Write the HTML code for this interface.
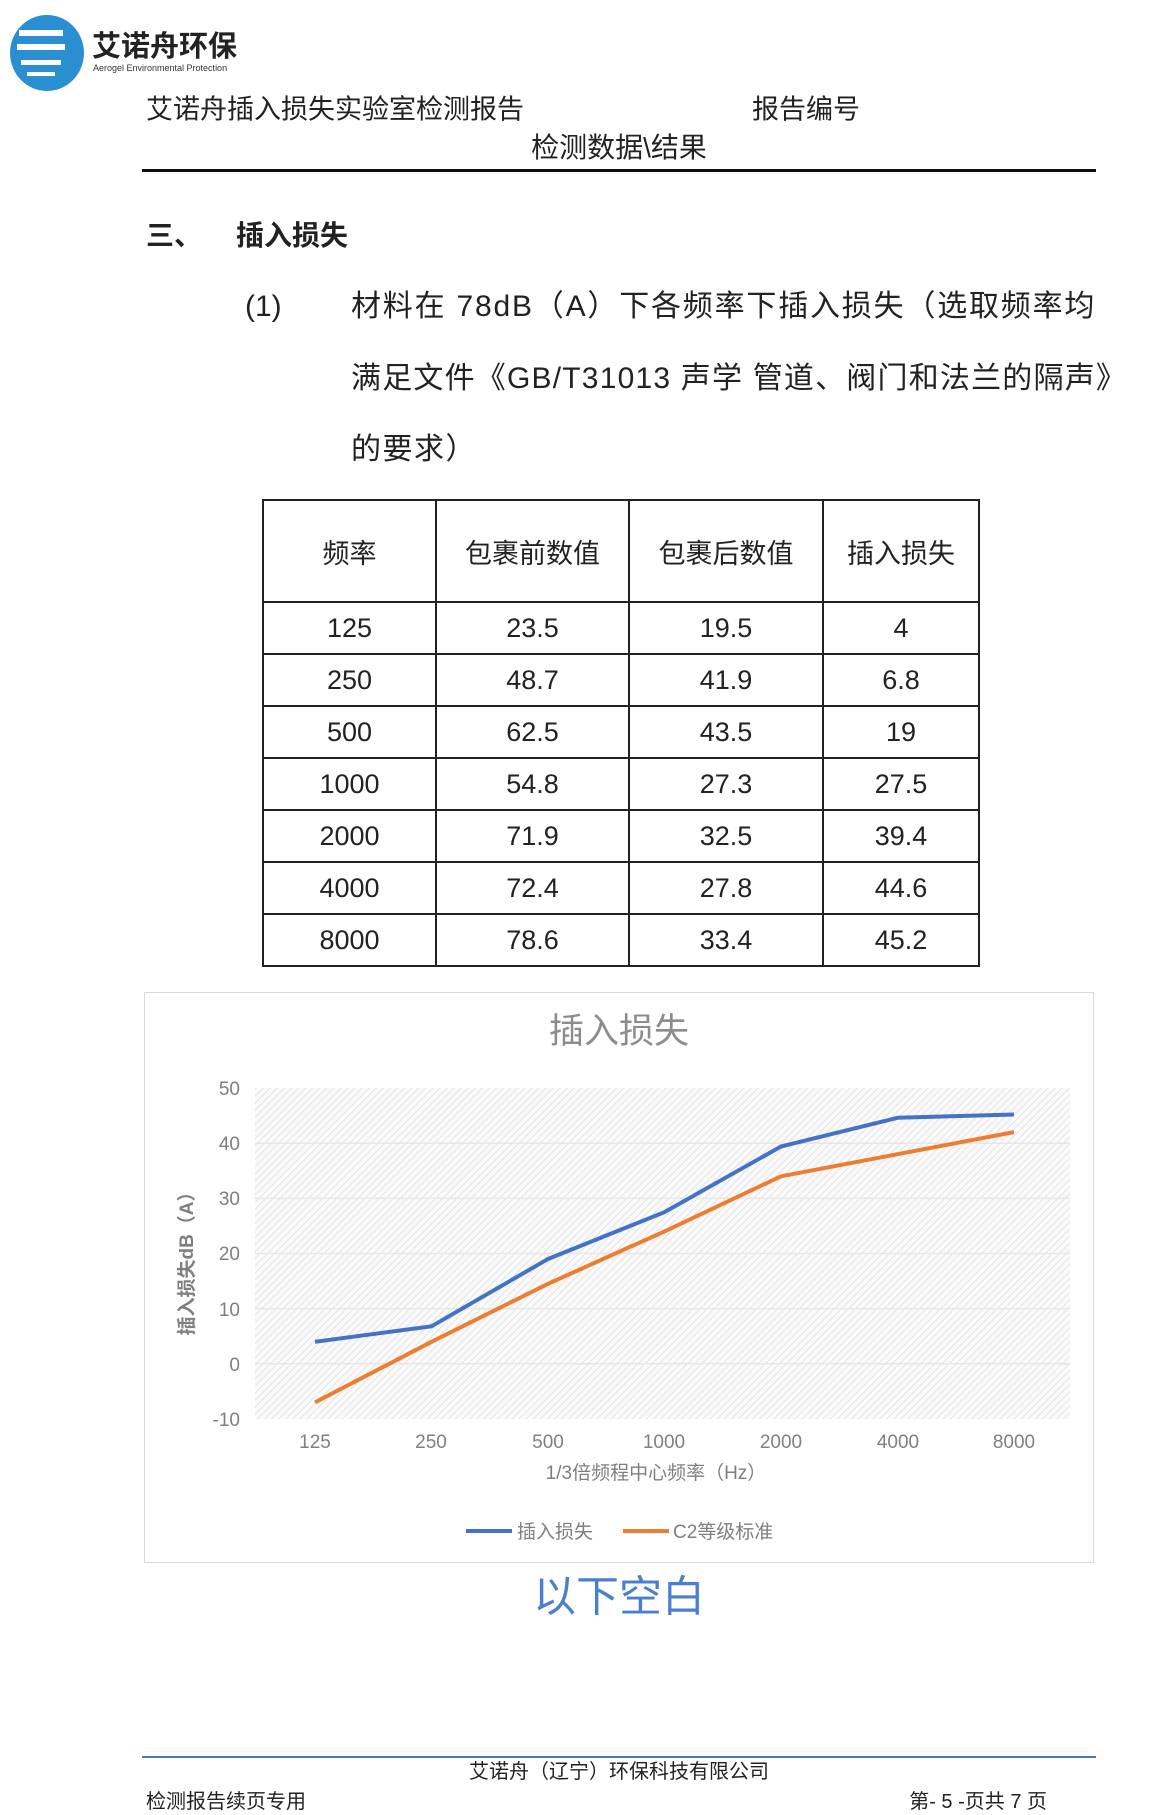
<!DOCTYPE html>
<html><head><meta charset="utf-8">
<style>
body{margin:0;width:1151px;height:1815px;background:#fff;position:relative;overflow:hidden;font-family:"Liberation Sans","Noto Sans CJK SC",sans-serif;color:#222}
.a{position:absolute;white-space:nowrap;line-height:1}
.c{transform:translate(-50%,-50%)}
.l{transform:translateY(-50%)}
table{position:absolute;left:262px;top:499px;border-collapse:collapse;font-size:27px}
td{border:2px solid #222;text-align:center;padding:0}
</style></head><body>
<!-- logo -->
<svg class="a" style="left:9px;top:14px" width="80" height="78" viewBox="0 0 80 78">
<ellipse cx="38" cy="39" rx="37" ry="38" fill="#2a8fd0"/>
<rect x="10" y="16" width="44" height="6" fill="#fff"/>
<rect x="8" y="30" width="48" height="6" fill="#fff"/>
<rect x="12" y="46" width="40" height="5" fill="#fff"/>
<rect x="18" y="58" width="28" height="4" fill="#fff"/>
<text x="62" y="58" font-size="12" fill="#2a8fd0">+</text>
</svg>
<div class="a" style="left:92px;top:33px;font-size:29px;font-weight:bold;color:#222">艾诺舟环保</div>
<div class="a" style="left:93px;top:64px;font-size:9px;color:#333">Aerogel Environmental Protection</div>

<div class="a l" style="left:146px;top:110px;font-size:27px">艾诺舟插入损失实验室检测报告</div>
<div class="a l" style="left:752px;top:110px;font-size:27px">报告编号</div>
<div class="a c" style="left:619px;top:148px;font-size:28px">检测数据\结果</div>
<div class="a" style="left:142px;top:169px;width:954px;height:3px;background:#111"></div>

<div class="a l" style="left:146px;top:236px;font-size:28px;font-weight:bold">三、<span style="display:inline-block;width:34px"></span>插入损失</div>
<div class="a l" style="left:245px;top:307px;font-size:30px">(1)</div>
<div class="a l" style="left:351px;top:307px;font-size:30px;letter-spacing:1.8px">材料在 78dB（A）下各频率下插入损失（选取频率均</div>
<div class="a l" style="left:351px;top:379px;font-size:30px;letter-spacing:1.2px">满足文件《GB/T31013 声学 管道、阀门和法兰的隔声》</div>
<div class="a l" style="left:351px;top:450px;font-size:30px;letter-spacing:1.5px">的要求）</div>

<table>
<tr style="height:102px"><td style="width:171px">频率</td><td style="width:191px">包裹前数值</td><td style="width:192px">包裹后数值</td><td style="width:154px">插入损失</td></tr>
<tr style="height:52px"><td>125</td><td>23.5</td><td>19.5</td><td>4</td></tr>
<tr style="height:52px"><td>250</td><td>48.7</td><td>41.9</td><td>6.8</td></tr>
<tr style="height:52px"><td>500</td><td>62.5</td><td>43.5</td><td>19</td></tr>
<tr style="height:52px"><td>1000</td><td>54.8</td><td>27.3</td><td>27.5</td></tr>
<tr style="height:52px"><td>2000</td><td>71.9</td><td>32.5</td><td>39.4</td></tr>
<tr style="height:52px"><td>4000</td><td>72.4</td><td>27.8</td><td>44.6</td></tr>
<tr style="height:52px"><td>8000</td><td>78.6</td><td>33.4</td><td>45.2</td></tr>
</table>

<svg class="a" style="left:0;top:0" width="1151" height="1815">
<defs><pattern id="h" width="5" height="5" patternUnits="userSpaceOnUse" patternTransform="rotate(45)"><rect width="5" height="5" fill="#fafafa"/><line x1="0" y1="0" x2="0" y2="5" stroke="#dcdcdc" stroke-width="1.5"/></pattern></defs>
<rect x="144.5" y="992.5" width="949" height="570" fill="#fff" stroke="#d9d9d9"/>
<rect x="255" y="1088" width="815" height="331" fill="url(#h)"/>
<g stroke="#e6e6e6" stroke-width="1.5">
<line x1="255" x2="1070" y1="1143.2" y2="1143.2"/><line x1="255" x2="1070" y1="1198.3" y2="1198.3"/><line x1="255" x2="1070" y1="1253.5" y2="1253.5"/><line x1="255" x2="1070" y1="1308.7" y2="1308.7"/><line x1="255" x2="1070" y1="1363.8" y2="1363.8"/>
</g>
<g font-size="19" fill="#7f7f7f" text-anchor="end" font-family="Liberation Sans,sans-serif">
<text x="240" y="1095">50</text><text x="240" y="1150">40</text><text x="240" y="1205">30</text><text x="240" y="1260">20</text><text x="240" y="1316">10</text><text x="240" y="1371">0</text><text x="240" y="1426">-10</text>
</g>
<g font-size="19" fill="#7f7f7f" text-anchor="middle" font-family="Liberation Sans,sans-serif">
<text x="315" y="1448">125</text><text x="431" y="1448">250</text><text x="548" y="1448">500</text><text x="664" y="1448">1000</text><text x="781" y="1448">2000</text><text x="898" y="1448">4000</text><text x="1014" y="1448">8000</text>
</g>
<text x="656" y="1479" font-size="19" fill="#7f7f7f" text-anchor="middle">1/3倍频程中心频率（Hz）</text>
<text transform="translate(193,1259) rotate(-90)" font-size="19" font-weight="bold" fill="#7f7f7f" text-anchor="middle">插入损失dB（A）</text>
<text x="619" y="1043" font-size="35" fill="#8c8c8c" text-anchor="middle">插入损失</text>
<polyline fill="none" stroke="#ed7d31" stroke-width="4" stroke-linejoin="round" points="315,1402.4 431.5,1341.8 548,1283.8 664.5,1231.4 781,1176.3 897.5,1154.2 1014,1132.1"/>
<polyline fill="none" stroke="#4472c4" stroke-width="4" stroke-linejoin="round" points="315,1341.8 431.5,1326.3 548,1259 664.5,1212.1 781,1146.5 897.5,1117.8 1014,1114.5"/>
<line x1="466" x2="512" y1="1531" y2="1531" stroke="#4472c4" stroke-width="4"/>
<text x="517" y="1538" font-size="19" fill="#7f7f7f">插入损失</text>
<line x1="623" x2="669" y1="1531" y2="1531" stroke="#ed7d31" stroke-width="4"/>
<text x="673" y="1538" font-size="19" fill="#7f7f7f">C2等级标准</text>
</svg>

<div class="a c" style="left:619px;top:1598px;font-size:43px;color:#4a7fd0">以下空白</div>

<div class="a" style="left:142px;top:1756px;width:954px;height:2px;background:#4a78c0"></div>
<div class="a c" style="left:619px;top:1772px;font-size:20px">艾诺舟（辽宁）环保科技有限公司</div>
<div class="a l" style="left:146px;top:1802px;font-size:20px">检测报告续页专用</div>
<div class="a l" style="right:104px;top:1802px;font-size:20px">第- 5 -页共 7 页</div>
</body></html>
